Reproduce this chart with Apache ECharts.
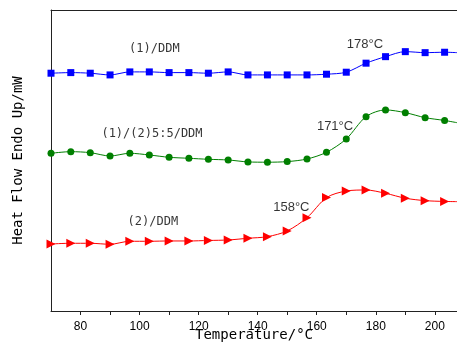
<!DOCTYPE html>
<html>
<head>
<meta charset="utf-8">
<script src="https://cdn.jsdelivr.net/npm/echarts@6/dist/echarts.min.js"></script>
<style>
  html, body { margin: 0; padding: 0; background: #fff; }
  #chart { width: 457px; height: 347px; }
</style>
</head>
<body>
<div id="chart"></div>
<script>
// temperature of each marker (°C); last point only carries the line to the edge
const temps = [70, 76.7, 83.3, 90, 96.7, 103.3, 110, 116.7, 123.3, 130, 136.7,
  143.3, 150, 156.7, 163.3, 170, 176.7, 183.3, 190, 196.7, 203.3, 207.5]

// heat flow (arbitrary offset units)
const ddm1 = [23.70, 23.76, 23.70, 23.53, 23.83, 23.83, 23.76, 23.76, 23.70, 23.83, 23.53,
  23.53, 23.53, 23.53, 23.60, 23.80, 24.70, 25.35, 25.85, 25.75, 25.79, 25.75]
const ddmMix = [15.72, 15.88, 15.78, 15.45, 15.72, 15.55, 15.32, 15.22, 15.12, 15.05, 14.86,
  14.83, 14.89, 15.15, 15.82, 17.15, 19.37, 20.04, 19.77, 19.27, 18.99, 18.77]
const ddm2 = [6.68, 6.75, 6.75, 6.65, 6.95, 6.95, 6.98, 6.98, 7.03, 7.08, 7.25,
  7.41, 7.98, 9.30, 11.30, 11.96, 12.06, 11.73, 11.24, 11.00, 10.92, 10.90]

const xTickLabels = [80, 100, 120, 140, 160, 180, 200]

// text notes in data coordinates
const notes = [
  { text: '(1)/DDM', x: 105.0, y: 26.12, mono: true },
  { text: '178°C', x: 176.3, y: 26.52 },
  { text: '(1)/(2)5:5/DDM', x: 104.2, y: 17.65, mono: true },
  { text: '171°C', x: 166.2, y: 18.37 },
  { text: '158°C', x: 151.4, y: 10.37 },
  { text: '(2)/DDM', x: 104.5, y: 8.90, mono: true }
]

const chart = echarts.init(document.getElementById('chart'))

function pairs(vals) {
  return vals.map((v, i) => {
    const item = { value: [temps[i], v] }
    if (i === vals.length - 1) item.symbolSize = 0
    return item
  })
}

function lineSeries(vals, color, symbol, size, rotate) {
  return {
    type: 'line',
    data: pairs(vals),
    smooth: 0.3,
    symbol: symbol,
    symbolSize: size,
    symbolRotate: rotate || 0,
    showAllSymbol: true,
    itemStyle: { color: color },
    lineStyle: { color: color, width: 1 },
    animation: false,
    silent: true
  }
}

const option = {
  animation: false,
  grid: { left: 51, right: 0, top: 10, bottom: 36, containLabel: false, outerBoundsMode: 'none' },
  xAxis: [{
    type: 'value',
    min: 70,
    max: 207.5,
    interval: 10,
    name: 'Temperature/°C',
    nameLocation: 'middle',
    nameGap: 17,
    nameMoveOverlap: false,
    nameTextStyle: { fontFamily: 'DejaVu Sans Mono', fontSize: 14, color: '#000' },
    axisLine: { lineStyle: { color: '#222', width: 1 } },
    axisTick: { show: true, inside: false, length: 4, lineStyle: { color: '#222' } },
    axisLabel: {
      margin: 10,
      fontFamily: 'Liberation Sans',
      fontSize: 12,
      color: '#000',
      showMinLabel: false,
      showMaxLabel: false,
      formatter: v => xTickLabels.includes(v) ? String(v) : ''
    },
    splitLine: { show: false }
  }, {
    type: 'value',
    position: 'top',
    min: 70,
    max: 207.5,
    axisLine: { show: true, lineStyle: { color: '#222', width: 1 } },
    axisTick: { show: false },
    axisLabel: { show: false },
    splitLine: { show: false }
  }],
  yAxis: {
    type: 'value',
    min: 0,
    max: 30,
    name: 'Heat Flow Endo Up/mW',
    nameLocation: 'middle',
    nameGap: 26,
    nameMoveOverlap: false,
    nameTextStyle: { fontFamily: 'DejaVu Sans Mono', fontSize: 14, color: '#000' },
    axisLine: { show: true, lineStyle: { color: '#222', width: 1 } },
    axisTick: { show: false },
    axisLabel: { show: false },
    splitLine: { show: false }
  },
  series: [
    lineSeries(ddm1, '#0000ff', 'rect', 7),
    lineSeries(ddmMix, '#007f00', 'circle', 7),
    lineSeries(ddm2, '#ff0000', 'triangle', 9, -90),
    {
      type: 'scatter',
      symbolSize: 0,
      silent: true,
      z: 5,
      data: notes.map(n => ({
        value: [n.x, n.y],
        label: {
          show: true,
          position: 'inside',
          formatter: n.text,
          color: '#000',
          fontFamily: n.mono ? 'DejaVu Sans Mono' : 'Liberation Sans',
          fontSize: n.mono ? 12 : 13
        }
      }))
    }
  ]
}

chart.setOption(option)
</script>
</body>
</html>
